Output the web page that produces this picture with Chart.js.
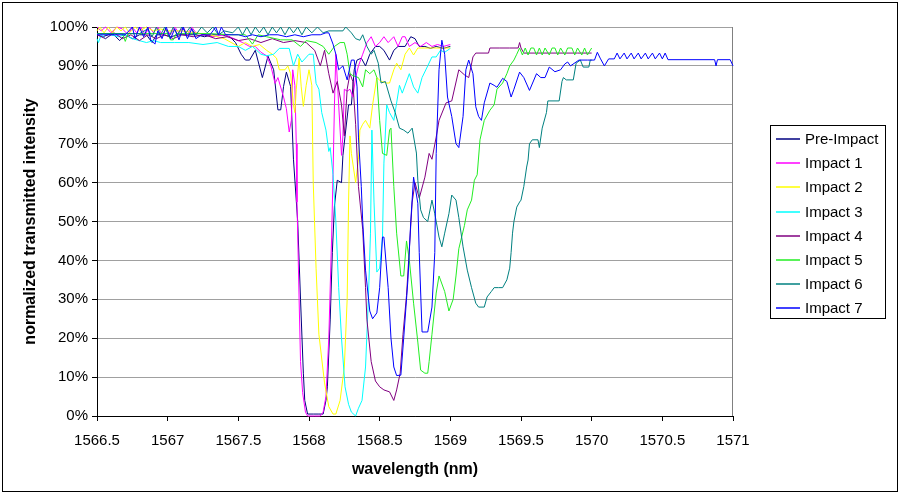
<!DOCTYPE html>
<html>
<head>
<meta charset="utf-8">
<script src="https://cdn.jsdelivr.net/npm/chart.js@4.4.1/dist/chart.umd.min.js"></script>
<style>
  html, body { margin: 0; padding: 0; background: #fff; }
  canvas { display: block; }
</style>
</head>
<body>
<canvas id="myChart" width="900" height="494"></canvas>
<script>
// wavelength (nm), normalized transmitted intensity (%)
var preImpact = [[1566.50,98],[1566.54,97.5],[1566.58,98],[1566.62,98],[1566.66,96.5],[1566.70,98],[1566.75,97],[1566.80,98],[1566.85,98],[1566.89,96],[1566.92,98],[1566.97,98],[1567.02,97.5],[1567.08,98],[1567.14,98],[1567.20,98],[1567.26,97.5],[1567.32,98],[1567.38,98],[1567.44,97.5],[1567.48,96],[1567.52,93],[1567.55,91.5],[1567.58,91.5],[1567.62,94],[1567.67,87],[1567.71,92.5],[1567.75,89],[1567.78,78.7],[1567.80,78.7],[1567.82,84.7],[1567.84,88.4],[1567.87,84.7],[1567.89,66],[1567.92,50],[1567.94,30],[1567.96,11],[1567.97,4],[1567.99,0.5],[1568.03,0.5],[1568.07,0.5],[1568.10,0.5],[1568.12,4],[1568.13,7.5],[1568.15,24.7],[1568.165,42],[1568.18,54],[1568.20,60.6],[1568.23,60],[1568.24,67],[1568.28,80],[1568.30,80],[1568.32,89],[1568.34,91.5],[1568.37,92],[1568.40,90],[1568.43,93],[1568.47,95],[1568.50,95],[1568.53,94],[1568.57,91.5],[1568.60,94],[1568.63,95],[1568.68,95],[1568.72,97.5],[1568.75,97],[1568.78,95],[1568.82,95],[1568.86,94.5],[1568.90,95],[1568.95,94.5],[1569.00,95]];
var impact1 = [[1566.50,100],[1566.53,99],[1566.56,100],[1566.60,98.5],[1566.64,100],[1566.68,99.5],[1566.72,98],[1566.75,100],[1566.78,98.5],[1566.81,100],[1566.84,98],[1566.87,100],[1566.90,98.5],[1566.93,100],[1566.96,98],[1566.99,99.5],[1567.02,98],[1567.05,100],[1567.08,98.5],[1567.11,100],[1567.14,98],[1567.17,100],[1567.20,98.5],[1567.25,98],[1567.32,97.5],[1567.40,98],[1567.47,97],[1567.53,96],[1567.58,95],[1567.62,95],[1567.66,93.5],[1567.70,92.6],[1567.73,90],[1567.76,85.5],[1567.78,87],[1567.82,82],[1567.84,79],[1567.86,73],[1567.875,76],[1567.885,89],[1567.90,85],[1567.91,70],[1567.915,55],[1567.93,30],[1567.94,14],[1567.955,6],[1567.975,1],[1567.99,0],[1568.04,0],[1568.08,0],[1568.10,1],[1568.12,5],[1568.14,20],[1568.16,46],[1568.17,62],[1568.18,80],[1568.19,93],[1568.21,80],[1568.23,67],[1568.24,72],[1568.25,84],[1568.27,83.5],[1568.29,84],[1568.31,82],[1568.33,87],[1568.35,90],[1568.38,93],[1568.41,96],[1568.44,97.5],[1568.47,95],[1568.50,96],[1568.53,97.5],[1568.56,96],[1568.60,97.5],[1568.63,95],[1568.66,97.5],[1568.68,97.5],[1568.71,95],[1568.75,96],[1568.79,95],[1568.83,96],[1568.87,95],[1568.91,95.5],[1568.95,95],[1569.00,95.5]];
var impact2 = [[1566.50,99],[1566.52,100],[1566.55,98.5],[1566.58,100],[1566.61,98.5],[1566.64,100],[1566.67,99],[1566.70,100],[1566.73,98.5],[1566.77,100],[1566.80,99],[1566.85,100],[1566.90,99],[1566.95,99.5],[1567.00,99],[1567.10,99],[1567.20,98.5],[1567.30,98],[1567.40,97],[1567.50,95],[1567.55,96],[1567.60,95],[1567.65,95.5],[1567.70,94],[1567.74,93],[1567.77,92],[1567.79,89],[1567.83,89],[1567.85,90],[1567.87,88],[1567.89,80],[1567.90,78],[1567.91,84],[1567.93,92],[1567.945,84.6],[1567.96,79.6],[1567.98,85],[1568.00,89],[1568.02,85],[1568.03,60],[1568.05,38],[1568.07,21],[1568.11,8.5],[1568.14,2.4],[1568.17,0.5],[1568.19,0.5],[1568.22,4],[1568.25,12.6],[1568.27,30],[1568.28,55],[1568.29,72],[1568.30,67.5],[1568.33,60],[1568.35,66],[1568.36,73.5],[1568.38,75],[1568.40,76],[1568.43,74],[1568.45,80],[1568.48,87],[1568.51,86],[1568.55,85.6],[1568.57,85.6],[1568.60,89],[1568.62,90.7],[1568.65,89],[1568.68,93],[1568.71,94.6],[1568.74,92.8],[1568.77,94.6],[1568.82,94.6],[1568.88,94.6],[1568.94,94.6],[1569.00,94.6]];
var impact3 = [[1566.50,97],[1566.51,96],[1566.53,98],[1566.56,97],[1566.60,98],[1566.65,97.5],[1566.70,98],[1566.75,97],[1566.80,96.5],[1566.85,96],[1566.90,96.5],[1566.95,96],[1567.05,96],[1567.15,96],[1567.25,95.5],[1567.35,96],[1567.43,95],[1567.50,95],[1567.55,94],[1567.60,95],[1567.66,93],[1567.70,92.6],[1567.75,93],[1567.79,94.5],[1567.83,94.5],[1567.86,94.5],[1567.89,90],[1567.92,93],[1567.95,91],[1568.00,93],[1568.03,93],[1568.05,85.5],[1568.07,84],[1568.09,78],[1568.12,73.5],[1568.14,68],[1568.15,69],[1568.17,62],[1568.19,50],[1568.21,33],[1568.23,20],[1568.255,7.5],[1568.28,3],[1568.30,1],[1568.33,0],[1568.35,2],[1568.375,4],[1568.40,12.6],[1568.42,30],[1568.435,47],[1568.445,73.5],[1568.46,55],[1568.48,37],[1568.50,38],[1568.52,46],[1568.53,65],[1568.55,80],[1568.57,78],[1568.60,76],[1568.64,85],[1568.66,83],[1568.71,88],[1568.74,84.6],[1568.77,83],[1568.80,87],[1568.84,90],[1568.87,92.3],[1568.90,92.3],[1568.93,94],[1568.96,93.5],[1569.00,94.5]];
var impact4 = [[1566.50,98],[1566.56,97],[1566.62,98.5],[1566.68,97],[1566.74,98],[1566.80,96.5],[1566.86,98],[1566.92,97],[1566.98,98],[1567.04,97],[1567.10,98],[1567.18,97.5],[1567.26,98],[1567.34,97],[1567.42,97.5],[1567.50,96.5],[1567.58,97],[1567.66,96],[1567.74,97],[1567.82,96],[1567.90,96.5],[1567.98,96],[1568.04,94],[1568.08,90],[1568.11,94],[1568.14,88],[1568.17,83],[1568.20,86],[1568.23,80],[1568.25,72],[1568.27,84],[1568.29,88],[1568.31,86],[1568.33,75],[1568.35,59],[1568.38,48],[1568.40,33],[1568.41,24.7],[1568.44,14],[1568.47,9],[1568.50,7.5],[1568.53,6.7],[1568.57,6.2],[1568.60,4],[1568.62,6.7],[1568.645,11],[1568.665,21],[1568.69,31],[1568.71,43],[1568.73,55],[1568.75,60],[1568.78,56],[1568.82,61.4],[1568.85,67.5],[1568.87,66],[1568.90,71.7],[1568.92,76],[1568.97,80.5],[1569.01,81],[1569.06,89],[1569.10,87.7],[1569.13,87],[1569.16,92.3],[1569.18,93.3],[1569.27,93.3],[1569.28,94.6],[1569.35,94.6],[1569.42,94.6],[1569.48,94.6],[1569.49,96],[1569.50,94.6],[1569.52,93.3],[1569.60,93.3],[1569.70,93.3],[1569.80,93.3],[1569.90,93.3],[1570.00,93.3]];
var impact5 = [[1566.50,98.3],[1566.68,98.3],[1566.70,96.3],[1566.72,98.3],[1567.00,98.3],[1567.02,96.7],[1567.04,96.7],[1567.06,98.3],[1567.30,98.3],[1567.45,98],[1567.55,98],[1567.60,95.6],[1567.64,98],[1567.70,97.5],[1567.80,96.7],[1567.88,96.7],[1567.94,95],[1567.98,96.5],[1568.05,96],[1568.10,95],[1568.14,93],[1568.18,95],[1568.22,96],[1568.25,96],[1568.27,93],[1568.29,88],[1568.31,87.5],[1568.35,87],[1568.38,84.6],[1568.40,89],[1568.43,88],[1568.46,89],[1568.48,87],[1568.50,76],[1568.52,67.5],[1568.55,67],[1568.57,73.5],[1568.58,74],[1568.60,59],[1568.62,47],[1568.65,36],[1568.67,36],[1568.69,45],[1568.71,40],[1568.74,29],[1568.77,19],[1568.79,11.8],[1568.82,11],[1568.84,11],[1568.85,14],[1568.87,21],[1568.90,31.6],[1568.92,36],[1568.96,32],[1568.99,27],[1569.02,30],[1569.04,36],[1569.06,43],[1569.10,49],[1569.12,53],[1569.15,55.5],[1569.17,60.6],[1569.19,62],[1569.21,71],[1569.24,76],[1569.28,78.6],[1569.31,80],[1569.33,84],[1569.37,85.6],[1569.40,88],[1569.42,90],[1569.45,91.5],[1569.47,93],[1569.49,94.6],[1569.51,92.8],[1569.53,94.6],[1569.55,92.8],[1569.57,94.6],[1569.59,94.6],[1569.61,92.8],[1569.63,94.6],[1569.65,92.8],[1569.67,94.6],[1569.70,92.8],[1569.72,94.6],[1569.74,94.6],[1569.76,92.8],[1569.78,94.6],[1569.81,92.8],[1569.83,94.6],[1569.86,94.6],[1569.88,92.8],[1569.90,94.6],[1569.93,92.8],[1569.95,94.6],[1569.97,92.8],[1570.00,94.6]];
var impact6 = [[1566.50,98.3],[1566.60,98.3],[1566.70,98.3],[1566.80,98.3],[1566.86,99.5],[1566.89,97.5],[1566.92,100],[1566.95,98],[1566.98,100],[1567.01,97.5],[1567.04,100],[1567.07,98],[1567.10,100],[1567.13,98.5],[1567.16,100],[1567.20,98],[1567.24,100],[1567.28,98.5],[1567.32,100],[1567.36,98],[1567.40,99],[1567.46,98.5],[1567.50,100],[1567.53,98],[1567.56,100],[1567.59,98],[1567.62,100],[1567.65,98.5],[1567.68,100],[1567.71,98],[1567.74,100],[1567.77,98.5],[1567.80,100],[1567.83,98],[1567.86,100],[1567.89,98.5],[1567.92,100],[1567.95,98],[1567.98,100],[1568.02,98.5],[1568.06,100],[1568.10,98.5],[1568.14,99],[1568.24,99],[1568.26,100],[1568.30,98.5],[1568.33,97],[1568.36,96.6],[1568.38,98],[1568.41,95],[1568.44,93],[1568.46,94],[1568.49,90.7],[1568.51,85.6],[1568.54,86],[1568.58,81],[1568.61,78],[1568.64,74],[1568.67,73.5],[1568.70,72.7],[1568.73,74],[1568.76,67.6],[1568.77,60.6],[1568.79,53],[1568.81,51],[1568.84,50],[1568.87,55.5],[1568.89,52],[1568.92,46],[1568.94,43.5],[1568.96,47],[1568.99,52],[1569.01,56.8],[1569.04,55.5],[1569.06,51],[1569.09,43.5],[1569.12,37.5],[1569.15,33],[1569.18,29],[1569.20,28],[1569.24,28],[1569.26,30.6],[1569.29,32],[1569.31,33],[1569.34,33],[1569.37,33],[1569.40,35],[1569.42,38],[1569.43,42],[1569.44,47],[1569.45,50],[1569.47,53.7],[1569.49,55],[1569.50,55.5],[1569.52,59],[1569.54,64],[1569.55,65.8],[1569.56,70],[1569.58,71],[1569.62,71],[1569.63,69],[1569.65,74],[1569.68,78],[1569.69,81],[1569.77,81],[1569.79,86],[1569.80,87],[1569.82,86.4],[1569.87,86.4],[1569.89,90.7],[1569.92,91.5],[1569.94,89.7],[1569.98,89.7],[1569.99,91.5],[1570.00,91.5]];
var impact7 = [[1566.50,98],[1566.60,98],[1566.70,98],[1566.75,100],[1566.77,97],[1566.80,100],[1566.83,97.5],[1566.86,100],[1566.88,96.7],[1566.91,95.6],[1566.93,99],[1566.96,97],[1566.99,100],[1567.02,97],[1567.05,99.5],[1567.08,96.7],[1567.11,100],[1567.14,97],[1567.17,99.5],[1567.20,97],[1567.24,98],[1567.30,98],[1567.34,100],[1567.36,98],[1567.38,100],[1567.41,98],[1567.50,98],[1567.55,97.5],[1567.60,98],[1567.66,97.5],[1567.72,98],[1567.78,98],[1567.84,97.5],[1567.90,98],[1567.96,97.5],[1568.02,98],[1568.08,98],[1568.12,98.5],[1568.14,98.5],[1568.17,95.6],[1568.19,93],[1568.21,89],[1568.24,90],[1568.27,86.4],[1568.30,91.5],[1568.32,91.5],[1568.34,84.6],[1568.35,71.7],[1568.37,59],[1568.38,50],[1568.40,37.5],[1568.43,27],[1568.45,25],[1568.48,26.5],[1568.50,33],[1568.52,46],[1568.53,46],[1568.56,33],[1568.58,20],[1568.60,12.6],[1568.62,10.4],[1568.65,10.5],[1568.67,20],[1568.70,35],[1568.72,50],[1568.74,61.4],[1568.77,54.7],[1568.78,42],[1568.80,21.6],[1568.84,21.6],[1568.87,28],[1568.89,42],[1568.90,67.5],[1568.92,89],[1568.94,96.6],[1568.96,93],[1568.98,82],[1569.01,77],[1569.04,70],[1569.06,69],[1569.09,77],[1569.11,89],[1569.13,91.5],[1569.16,88],[1569.18,79.5],[1569.20,77],[1569.22,76],[1569.24,80.5],[1569.28,85.6],[1569.31,85],[1569.33,84.5],[1569.37,86.8],[1569.40,86],[1569.43,82],[1569.45,84],[1569.49,88.4],[1569.52,87],[1569.56,83.7],[1569.61,88],[1569.64,87],[1569.67,87],[1569.70,89.7],[1569.74,88.5],[1569.78,89],[1569.81,90.5],[1569.83,91],[1569.85,90],[1569.91,91.5],[1569.97,91.5],[1570.02,91.5],[1570.04,93.5],[1570.06,92],[1570.09,90],[1570.12,91.8],[1570.16,91.8],[1570.18,93.3],[1570.20,91.8],[1570.23,93.3],[1570.25,91.8],[1570.28,93.3],[1570.30,91.8],[1570.33,93.3],[1570.35,91.8],[1570.38,93.3],[1570.40,91.8],[1570.43,93.3],[1570.45,91.8],[1570.48,93.3],[1570.50,91.8],[1570.52,93.3],[1570.54,91.6],[1570.87,91.6],[1570.88,90],[1570.89,91.6],[1570.98,91.6],[1571.00,90]];

var seriesNames = ['Pre-Impact','Impact 1','Impact 2','Impact 3','Impact 4','Impact 5','Impact 6','Impact 7'];
var seriesColors = ['#000080','#FF00FF','#FFFF00','#00FFFF','#800080','#22EE22','#008080','#0000FF'];
var seriesData = [preImpact, impact1, impact2, impact3, impact4, impact5, impact6, impact7];
var xTickLabels = ['1566.5','1567','1567.5','1568','1568.5','1569','1569.5','1570','1570.5','1571'];

var FONT = '"Liberation Sans", Arial, sans-serif';

// white background, gray plot-area border, outer chart border
var framePlugin = {
  id: 'framePlugin',
  beforeDraw: function(chart) {
    var ctx = chart.ctx;
    ctx.save();
    ctx.fillStyle = '#fff';
    ctx.fillRect(0, 0, chart.width, chart.height);
    ctx.restore();
  },
  beforeDatasetsDraw: function(chart) {
    var ctx = chart.ctx, a = chart.chartArea;
    ctx.save();
    ctx.strokeStyle = '#808080';
    ctx.lineWidth = 1;
    ctx.beginPath();
    ctx.moveTo(a.right - 0.5, a.top);
    ctx.lineTo(a.right - 0.5, a.bottom);
    ctx.stroke();
    ctx.restore();
  },
  afterDraw: function(chart) {
    var ctx = chart.ctx;
    ctx.save();
    ctx.strokeStyle = '#000';
    ctx.lineWidth = 1;
    ctx.strokeRect(2.5, 2.5, chart.width - 5, chart.height - 5);
    ctx.restore();
  }
};

// boxed legend on the right, like the original
var boxLegend = {
  id: 'boxLegend',
  afterDraw: function(chart) {
    var ctx = chart.ctx;
    ctx.save();
    ctx.strokeStyle = '#000';
    ctx.lineWidth = 1;
    ctx.strokeRect(770.5, 125.5, 115, 193);
    ctx.font = '15px ' + FONT;
    ctx.textBaseline = 'middle';
    ctx.fillStyle = '#000';
    chart.data.datasets.forEach(function(ds, i) {
      var y = Math.round(139 + i * 24.2);
      ctx.strokeStyle = ds.borderColor;
      ctx.lineWidth = 1.5;
      ctx.beginPath();
      ctx.moveTo(776, y);
      ctx.lineTo(800, y);
      ctx.stroke();
      ctx.fillText(ds.label, 805, y + 0.5);
    });
    ctx.restore();
  }
};

var datasets = seriesData.map(function(d, i) {
  return {
    label: seriesNames[i],
    data: d,
    borderColor: seriesColors[i],
    backgroundColor: seriesColors[i],
    borderWidth: 1,
    pointRadius: 0,
    showLine: true,
    fill: false,
    tension: 0,
    clip: 3,
    order: seriesData.length - i
  };
});

var myChart = new Chart(document.getElementById('myChart'), {
  type: 'scatter',
  data: { datasets: datasets },
  options: {
    responsive: false,
    animation: false,
    events: [],
    layout: { padding: { left: 0, top: 27, right: 167, bottom: 0 } },
    plugins: { legend: { display: false }, tooltip: { enabled: false } },
    scales: {
      x: {
        type: 'linear',
        min: 1566.5,
        max: 1571,
        ticks: {
          stepSize: 0.5,
          autoSkip: false,
          maxRotation: 0,
          padding: 11,
          color: '#000',
          font: { family: FONT, size: 15 },
          callback: function(v, i) { return xTickLabels[i]; }
        },
        grid: { drawOnChartArea: false, tickLength: 5, color: '#000' },
        border: { color: '#000', width: 1 },
        title: {
          display: true,
          text: 'wavelength (nm)',
          color: '#000',
          font: { family: FONT, size: 16, weight: 'bold' },
          padding: { top: 0, bottom: 15 }
        },
        afterFit: function(s) { s.height = 78; }
      },
      y: {
        min: 0,
        max: 100,
        ticks: {
          stepSize: 10,
          padding: 4,
          color: '#000',
          font: { family: FONT, size: 15 },
          callback: function(v) { return v + '%'; }
        },
        grid: {
          color: function(c) { return c.tick && c.tick.value === 0 ? '#000' : '#A0A0A0'; },
          tickColor: '#000',
          tickLength: 5
        },
        border: { color: '#000', width: 1 },
        title: {
          display: true,
          text: 'normalized transmitted intensity',
          color: '#000',
          font: { family: FONT, size: 16, weight: 'bold' },
          padding: { top: 21, bottom: 0 }
        },
        afterFit: function(s) { s.width = 97; }
      }
    }
  },
  plugins: [framePlugin, boxLegend]
});
</script>
</body>
</html>
